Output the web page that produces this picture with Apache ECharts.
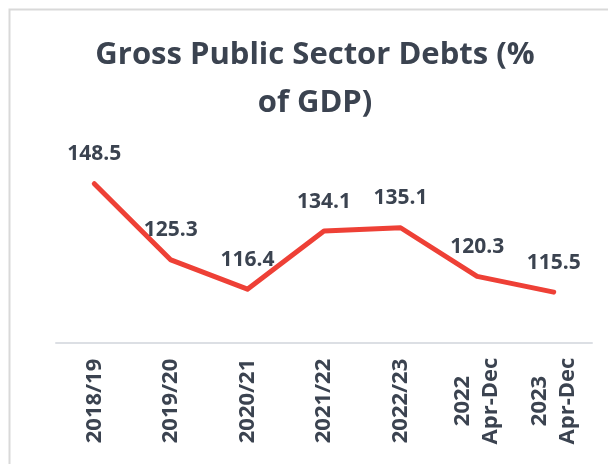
<!DOCTYPE html>
<html>
<head>
<meta charset="utf-8">
<script src="https://cdn.jsdelivr.net/npm/echarts@6/dist/echarts.min.js"></script>
<style>
  html, body { margin: 0; padding: 0; background: #ffffff; }
  #chart { width: 608px; height: 464px; }
</style>
</head>
<body>
<div id="chart"></div>
<script>
// Gross public sector debt, % of GDP
const categories = ['2018/19', '2019/20', '2020/21', '2021/22', '2022/23', '2022\nApr-Dec', '2023\nApr-Dec'];
const debtValues = [148.5, 125.3, 116.4, 134.1, 135.1, 120.3, 115.5];
const titleText = 'Gross Public Sector Debts (%\nof GDP)';

const textColor = '#3b4350';
const fontFamily = '"Open Sans", "Noto Sans", sans-serif';

const chart = echarts.init(document.getElementById('chart'), null, { renderer: 'canvas' });

chart.setOption({
  backgroundColor: '#ffffff',
  animation: false,
  graphic: [{
    type: 'rect',
    silent: true,
    shape: { x: 9.5, y: 9.5, width: 640, height: 500 },
    style: { fill: 'none', stroke: '#d9d9d9', lineWidth: 2 }
  }, {
    type: 'text',
    silent: true,
    x: 315,
    y: 31,
    style: {
      text: titleText,
      align: 'center',
      verticalAlign: 'top',
      fontFamily: fontFamily,
      fontWeight: 'bold',
      fontSize: 31,
      lineHeight: 48,
      fill: textColor
    }
  }],
  grid: { left: 56, right: 16, top: 146, bottom: 121 },
  xAxis: {
    type: 'category',
    data: categories,
    boundaryGap: true,
    axisLine: { show: true, lineStyle: { color: '#dcdfe4', width: 2 } },
    axisTick: { show: false },
    axisLabel: {
      interval: 0,
      rotate: 90,
      align: 'center',
      margin: 58,
      fontFamily: fontFamily,
      fontWeight: 'bold',
      fontSize: 22,
      lineHeight: 28,
      color: textColor
    }
  },
  yAxis: {
    type: 'value',
    min: 100,
    max: 160,
    show: false,
    splitLine: { show: false }
  },
  series: [{
    type: 'line',
    data: debtValues,
    showSymbol: true,
    symbol: 'circle',
    symbolSize: 2,
    itemStyle: { color: 'rgba(238,64,54,0)', borderWidth: 0 },
    lineStyle: { color: '#ee4036', width: 5, cap: 'round', join: 'round' },
    label: {
      show: true,
      position: 'top',
      distance: 18,
      fontFamily: fontFamily,
      fontWeight: 'bold',
      fontSize: 21,
      color: textColor,
      formatter: function (p) { return p.value.toFixed(1); }
    }
  }]
});
</script>
</body>
</html>
